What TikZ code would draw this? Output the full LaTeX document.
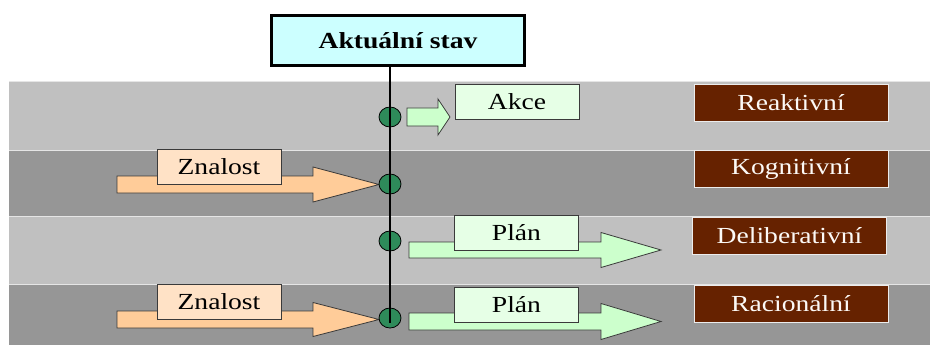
\documentclass[tikz,border=0pt]{standalone}
\usepackage{fontspec}
\usepackage{graphicx}
\setmainfont{Liberation Serif}
\usetikzlibrary{shapes.geometric}

\definecolor{bandlight}{HTML}{C0C0C0}
\definecolor{banddark}{HTML}{969696}
\definecolor{stavfill}{HTML}{CCFFFF}
\definecolor{greenbox}{HTML}{E6FFE6}
\definecolor{greenarrow}{HTML}{CCFFCC}
\definecolor{peachbox}{HTML}{FFE2C6}
\definecolor{peacharrow}{HTML}{FFCC99}
\definecolor{dotgreen}{HTML}{2E8B5A}
\definecolor{levelbrown}{HTML}{662200}
\definecolor{edgegray}{HTML}{3A3A3A}

% wide serif lettering
\newcommand\wtext[1]{\scalebox{1.2}[1]{#1}}

% block arrow: start x, head x, tip x, centre y, half body, half head
\newcommand\blockarrow[7]{%
  \filldraw[arrowedge, fill=#7]
    (#1,{#4-#5}) -- (#2,{#4-#5}) -- (#2,{#4-#6}) -- (#3,#4)
    -- (#2,{#4+#6}) -- (#2,{#4+#5}) -- (#1,{#4+#5}) -- cycle;}

\tikzset{
  arrowedge/.style={draw=edgegray, line width=0.8pt},
  statebox/.style={draw=black, line width=3pt, fill=stavfill,
    minimum width=253pt, minimum height=50pt, inner sep=0pt,
    font=\fontsize{23}{26}\selectfont\bfseries},
  labelbox/.style={draw=edgegray, line width=0.8pt, minimum width=124pt,
    minimum height=35pt, inner sep=0pt, font=\fontsize{23}{26}\selectfont},
  levelbox/.style={draw=white!85!gray, line width=0.8pt, fill=levelbrown,
    text=white!95!brown, minimum width=194pt, minimum height=37pt,
    inner sep=0pt, font=\fontsize{23}{26}\selectfont},
  dot/.style={ellipse, draw=black, line width=0.8pt, fill=dotgreen,
    minimum width=22pt, minimum height=20pt, inner sep=0pt},
  vline/.style={draw=black, line width=2.5pt},
}

\begin{document}
\begin{tikzpicture}[x=1pt, y=-1pt]
  \useasboundingbox (0,0) rectangle (930,345);
  \fill[white] (0,0) rectangle (930,345);

  % horizontal bands, one per agent type
  \fill[bandlight] (9,81) rectangle (930,150);
  \fill[banddark]  (9,150) rectangle (930,216);
  \fill[bandlight] (9,216) rectangle (930,284);
  \fill[banddark]  (9,284) rectangle (930,345);
  \foreach \yy in {81,150,216,284}
    \draw[white!80!gray, line width=0.8pt] (9,\yy) -- (930,\yy);

  % current state box
  \node[statebox] (stav) at (398,40.5) {\wtext{Aktuální stav}};

  % block arrows
  \blockarrow{407}{438}{450}{117}{9}{18}{greenarrow}
  \blockarrow{117}{313}{379}{184.5}{8.5}{17.5}{peacharrow}
  \blockarrow{409}{601}{661}{250}{8}{17.5}{greenarrow}
  \blockarrow{117}{313}{379}{319.5}{8.5}{17}{peacharrow}
  \blockarrow{409}{601}{661}{321.5}{8.5}{18}{greenarrow}

  % labels on the arrows
  \node[labelbox, fill=greenbox] (akce)  at (517,101.5) {\wtext{Akce}};
  \node[labelbox, fill=peachbox] (zn1)   at (219,167)   {\wtext{Znalost}};
  \node[labelbox, fill=greenbox] (plan1) at (516.5,233) {\wtext{Plán}};
  \node[labelbox, fill=peachbox] (zn2)   at (219,302)   {\wtext{Znalost}};
  \node[labelbox, fill=greenbox] (plan2) at (516.5,305) {\wtext{Plán}};

  % junction points on the state line
  \node[dot] (c1) at (390,117) {};
  \node[dot] (c2) at (390,184) {};
  \node[dot] (c3) at (390,241) {};
  \node[dot] (c4) at (390,318) {};

  % state line
  \coordinate (lineend) at (390,323);
  \draw[vline] (stav.south -| c1) -- (lineend);

  % agent type labels
  \node[levelbox] (reak)  at (791,102.5) {\wtext{Reaktivní}};
  \node[levelbox] (kogn)  at (791,169)   {\wtext{Kognitivní}};
  \node[levelbox] (delib) at (789.5,236) {\wtext{Deliberativní}};
  \node[levelbox] (rac)   at (791,304)   {\wtext{Racionální}};
\end{tikzpicture}
\end{document}
